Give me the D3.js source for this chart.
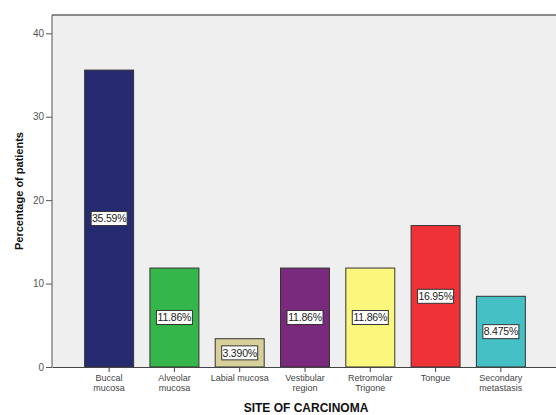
<!DOCTYPE html>
<html>
<head>
<meta charset="utf-8">
<script src="https://cdn.jsdelivr.net/npm/d3@7/dist/d3.min.js"></script>
<style>
  html, body { margin: 0; padding: 0; background: #fff; }
  svg { display: block; font-family: Arial, "Liberation Sans", sans-serif; }
</style>
</head>
<body>
<svg id="chart" width="556" height="415"></svg>
<script>
// Site of carcinoma, percentage of patients
const sites = [
  ["Buccal", "mucosa"],
  ["Alveolar", "mucosa"],
  ["Labial mucosa"],
  ["Vestibular", "region"],
  ["Retromolar", "Trigone"],
  ["Tongue"],
  ["Secondary", "metastasis"]
];
const percents = [35.59, 11.86, 3.390, 11.86, 11.86, 16.95, 8.475];
const valueLabels = ["35.59%", "11.86%", "3.390%", "11.86%", "11.86%", "16.95%", "8.475%"];
const barColors = ["#262a70", "#34b64a", "#d8d09a", "#7a2a7c", "#fbf77c", "#ef3238", "#45c0c4"];
const yTicks = [0, 10, 20, 30, 40];

const svg = d3.select("#chart");
const plot = { left: 52, right: 558, top: 15, bottom: 367 };

const keys = sites.map((s, i) => i);
const x = d3.scaleBand()
  .domain(keys)
  .range([plot.left, plot.right])
  .paddingInner(0.25)
  .paddingOuter(0.5);

const y = d3.scaleLinear()
  .domain([0, 40])
  .range([plot.bottom, 33.3]);

// plot background
svg.append("rect")
  .attr("x", plot.left).attr("y", plot.top)
  .attr("width", plot.right - plot.left).attr("height", plot.bottom - plot.top)
  .attr("fill", "#efefef");

// top frame line
svg.append("line")
  .attr("x1", plot.left).attr("x2", plot.right)
  .attr("y1", plot.top).attr("y2", plot.top)
  .attr("stroke", "#8a8a8a").attr("stroke-width", 2);

// bars
svg.append("g").selectAll("rect")
  .data(percents)
  .join("rect")
  .attr("x", (d, i) => x(i))
  .attr("y", d => y(d))
  .attr("width", x.bandwidth())
  .attr("height", d => y(0) - y(d))
  .attr("fill", (d, i) => barColors[i])
  .attr("stroke", "#333")
  .attr("stroke-width", 1);

// value labels centred on each bar
const lbl = svg.append("g").selectAll("g")
  .data(percents)
  .join("g")
  .attr("transform", (d, i) => `translate(${x(i) + x.bandwidth() / 2},${y(d / 2)})`);
lbl.append("rect")
  .attr("x", -18).attr("y", -7)
  .attr("width", 36).attr("height", 14)
  .attr("fill", "#fff")
  .attr("stroke", "#333")
  .attr("stroke-width", 1);
lbl.append("text")
  .attr("text-anchor", "middle")
  .attr("dy", "0.36em")
  .attr("font-size", 10.5)
  .attr("letter-spacing", -0.2)
  .attr("fill", "#222")
  .text((d, i) => valueLabels[i]);

// y axis
const yAxis = svg.append("g")
  .attr("transform", `translate(${plot.left},0)`)
  .call(d3.axisLeft(y).tickValues(yTicks).tickSize(6).tickPadding(2).tickSizeOuter(0));
yAxis.select(".domain").attr("stroke", "#555").attr("d", `M0,${plot.top}V${plot.bottom}`);
yAxis.selectAll(".tick line").attr("stroke", "#555");
yAxis.selectAll(".tick text").attr("font-size", 10).attr("fill", "#555").attr("font-family", "Arial, 'Liberation Sans', sans-serif");

// x axis
const xAxis = svg.append("g")
  .attr("transform", `translate(0,${plot.bottom})`)
  .call(d3.axisBottom(x).tickSize(5).tickSizeOuter(0).tickFormat(""));
xAxis.select(".domain").attr("stroke", "#444");
xAxis.selectAll(".tick line").attr("stroke", "#444");

// category labels (one or two lines)
const cat = svg.append("g").selectAll("text")
  .data(sites)
  .join("text")
  .attr("text-anchor", "middle")
  .attr("font-size", 9)
  .attr("fill", "#444")
  .attr("x", (d, i) => x(i) + x.bandwidth() / 2)
  .attr("y", 381);
cat.selectAll("tspan")
  .data(d => d)
  .join("tspan")
  .attr("x", function () { return this.parentNode.getAttribute("x"); })
  .attr("dy", (d, j) => j === 0 ? 0 : 10)
  .text(d => d);

// axis titles
svg.append("text")
  .attr("x", 306).attr("y", 412)
  .attr("text-anchor", "middle")
  .attr("font-size", 12).attr("font-weight", "bold")
  .attr("fill", "#111")
  .text("SITE OF CARCINOMA");

svg.append("text")
  .attr("transform", "translate(23,191) rotate(-90)")
  .attr("text-anchor", "middle")
  .attr("font-size", 11).attr("font-weight", "bold")
  .attr("fill", "#111")
  .text("Percentage of patients");
</script>
</body>
</html>
